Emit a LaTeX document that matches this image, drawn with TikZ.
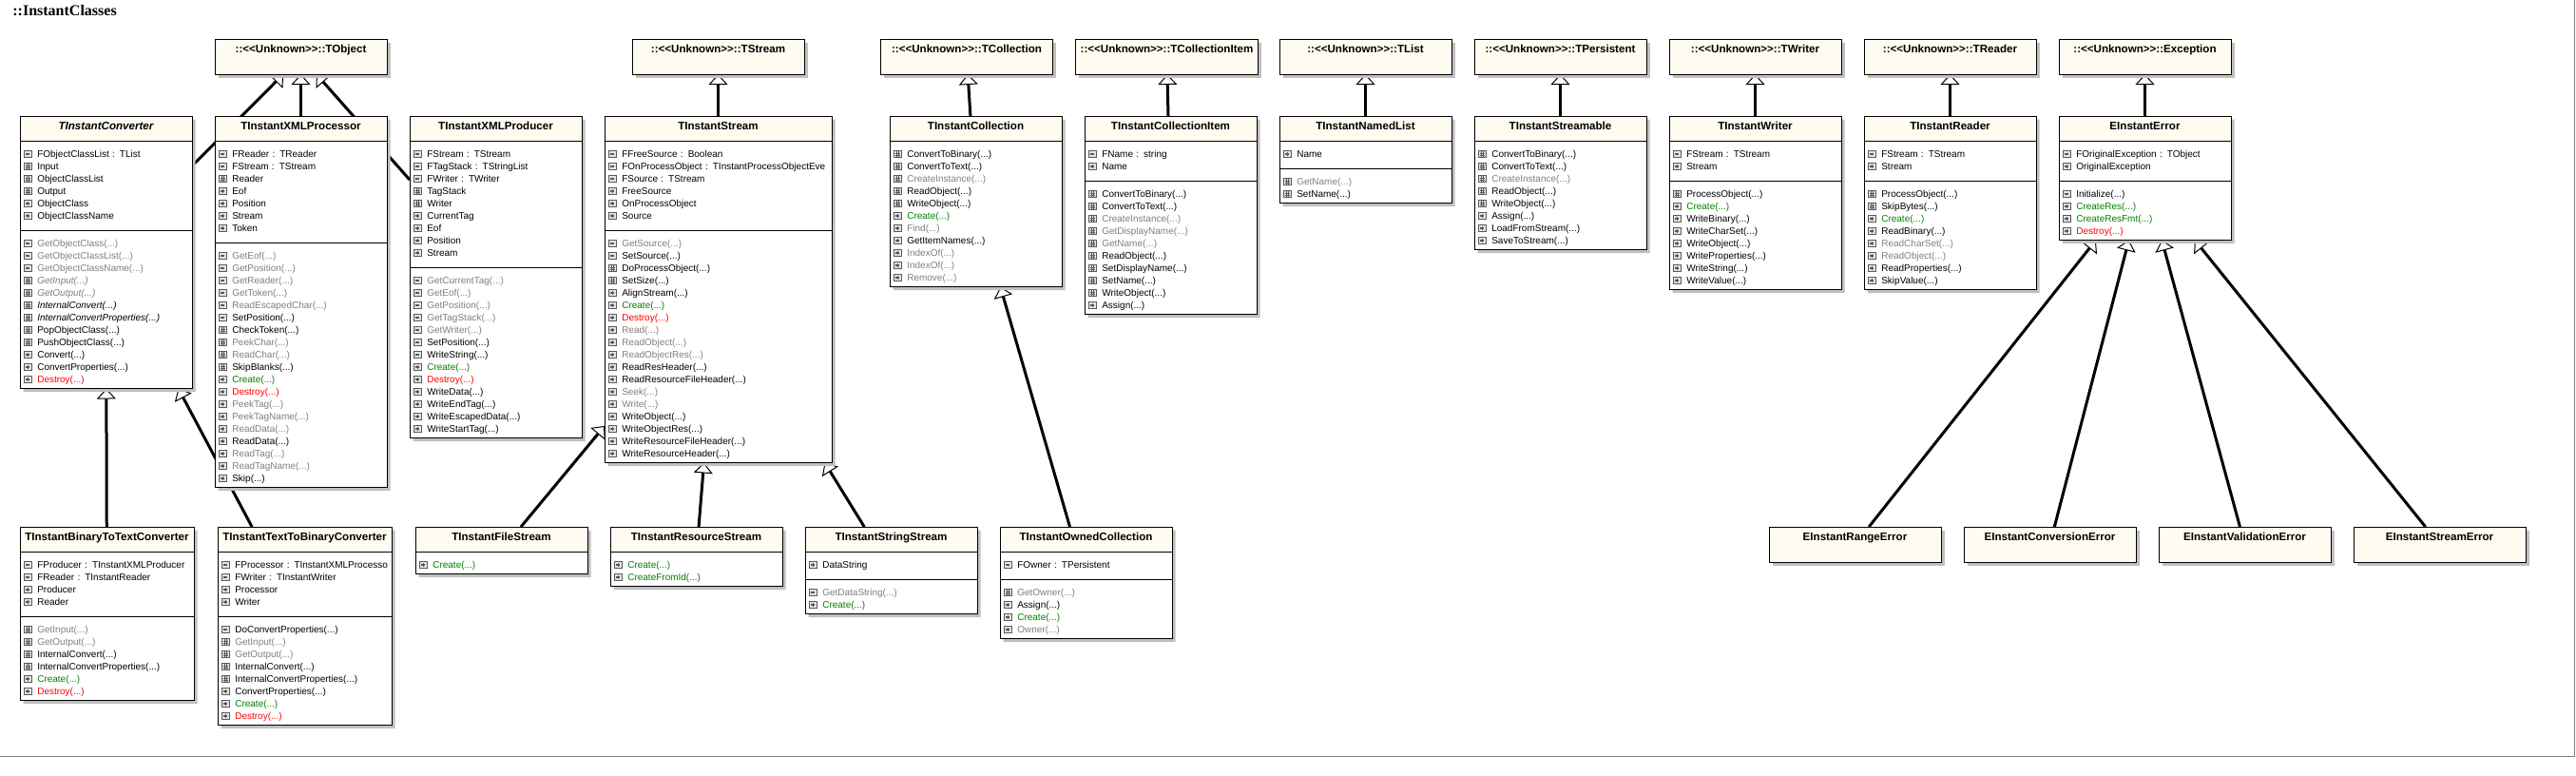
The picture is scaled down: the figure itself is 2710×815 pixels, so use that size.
\documentclass[tikz,border=0pt]{standalone}
\usepackage{fontspec}
\setmainfont{Liberation Sans}
\newfontfamily\titlefont{Liberation Serif}
\usepackage{tikz}
\usetikzlibrary{arrows.meta,positioning,shapes.multipart,shadows,backgrounds}
\definecolor{classhead}{RGB}{255,251,240}
\definecolor{shadowgray}{RGB}{192,192,192}
\definecolor{memgray}{RGB}{128,128,128}
\definecolor{memgreen}{RGB}{0,128,0}
\definecolor{memred}{RGB}{255,0,0}
\definecolor{icondark}{RGB}{90,90,90}
\definecolor{iconfill}{RGB}{228,228,228}
\newcommand{\memfont}{\fontsize{5pt}{6.5pt}\selectfont}
\newcommand{\headfont}{\bfseries\fontsize{5.8pt}{7pt}\selectfont}
\newcommand{\vicon}[1]{\tikz[baseline=0pt]{\draw[line width=0.35pt,draw=icondark,fill=iconfill] (0pt,0pt) rectangle (3.8pt,3.8pt); #1}}
\newcommand{\ipub}{\vicon{\draw[line width=0.6pt,icondark] (0.8pt,1.9pt) -- (3pt,1.9pt) (1.9pt,0.8pt) -- (1.9pt,3pt);}}
\newcommand{\ipriv}{\vicon{\draw[line width=0.6pt,icondark] (0.8pt,1.9pt) -- (3pt,1.9pt);}}
\newcommand{\iprot}{\vicon{\draw[line width=0.3pt,icondark] (1.4pt,0.6pt) -- (1.4pt,3.2pt) (2.4pt,0.6pt) -- (2.4pt,3.2pt) (0.6pt,1.4pt) -- (3.2pt,1.4pt) (0.6pt,2.4pt) -- (3.2pt,2.4pt);}}
\newcommand{\mem}[3]{\leavevmode\hbox to\linewidth{\rule[-1.6pt]{0pt}{6.5pt}#1\hspace{3pt}\textcolor{#2}{#3}\hss}}
\newcommand{\cname}[1]{\leavevmode\hbox to\linewidth{\hss\rule[-4.5pt]{0pt}{10.5pt}\headfont #1\hss}}
\newcommand{\padtop}{\rule{0pt}{7.65pt}}
\newcommand{\padbot}{\rule[-4.35pt]{0pt}{4.35pt}}
\newcommand{\unk}{::<\kern0pt<Unknown>\kern0pt>::}
\tikzset{
  umlclass/.style={rectangle split, rectangle split parts=3, draw, fill=white, line width=0.5pt,
    text width=86.5pt, inner xsep=2pt, inner ysep=1pt, outer sep=0pt, align=left, font=\memfont,
    path picture={\fill[classhead] (path picture bounding box.north west) rectangle ([yshift=-12.5pt]path picture bounding box.north east);},
    drop shadow={shadow xshift=1.75pt, shadow yshift=-1.75pt, fill=shadowgray, opacity=1}},
  stubclass/.style={rectangle, draw, fill=classhead, line width=0.5pt, minimum width=90.5pt,
    inner xsep=0pt, inner ysep=2pt, text height=5pt, text depth=9.5pt, outer sep=0pt, font=\headfont,
    drop shadow={shadow xshift=1.75pt, shadow yshift=-1.75pt, fill=shadowgray, opacity=1}},
  inherit/.style={line width=1.5pt, -{Triangle[fill=white, length=5.5pt, width=10pt, line width=0.5pt]}}
}
\begin{document}
\begin{tikzpicture}[x=0.5pt,y=-0.5pt]
  \useasboundingbox (0,0) rectangle (2710,815);
  \node[anchor=base west, inner sep=0pt, font=\titlefont\bfseries\fontsize{8pt}{9.6pt}\selectfont] (title) at (13,16) {::InstantClasses};

  \node[umlclass, anchor=north west] (conv) at (21,122) {\cname{\itshape TInstantConverter}
    \nodepart{two}\padtop\mem{\ipriv}{black}{FObjectClassList : TList}\\
    \mem{\iprot}{black}{Input}\\
    \mem{\iprot}{black}{ObjectClassList}\\
    \mem{\iprot}{black}{Output}\\
    \mem{\ipub}{black}{ObjectClass}\\
    \mem{\ipub}{black}{ObjectClassName}\padbot
    \nodepart{three}\padtop\mem{\ipriv}{memgray}{GetObjectClass(...)}\\
    \mem{\ipriv}{memgray}{GetObjectClassList(...)}\\
    \mem{\ipriv}{memgray}{GetObjectClassName(...)}\\
    \mem{\iprot}{memgray}{\itshape GetInput(...)}\\
    \mem{\iprot}{memgray}{\itshape GetOutput(...)}\\
    \mem{\iprot}{black}{\itshape InternalConvert(...)}\\
    \mem{\iprot}{black}{\itshape InternalConvertProperties(...)}\\
    \mem{\iprot}{black}{PopObjectClass(...)}\\
    \mem{\iprot}{black}{PushObjectClass(...)}\\
    \mem{\ipub}{black}{Convert(...)}\\
    \mem{\ipub}{black}{ConvertProperties(...)}\\
    \mem{\ipub}{memred}{Destroy(...)}};
  \node[umlclass, below right=0pt and 12pt of conv.north east] (xmlproc) {\cname{TInstantXMLProcessor}
    \nodepart{two}\padtop\mem{\ipriv}{black}{FReader : TReader}\\
    \mem{\ipriv}{black}{FStream : TStream}\\
    \mem{\iprot}{black}{Reader}\\
    \mem{\ipub}{black}{Eof}\\
    \mem{\ipub}{black}{Position}\\
    \mem{\ipub}{black}{Stream}\\
    \mem{\ipub}{black}{Token}\padbot
    \nodepart{three}\padtop\mem{\ipriv}{memgray}{GetEof(...)}\\
    \mem{\ipriv}{memgray}{GetPosition(...)}\\
    \mem{\ipriv}{memgray}{GetReader(...)}\\
    \mem{\ipriv}{memgray}{GetToken(...)}\\
    \mem{\ipriv}{memgray}{ReadEscapedChar(...)}\\
    \mem{\ipriv}{black}{SetPosition(...)}\\
    \mem{\iprot}{black}{CheckToken(...)}\\
    \mem{\iprot}{memgray}{PeekChar(...)}\\
    \mem{\iprot}{memgray}{ReadChar(...)}\\
    \mem{\iprot}{black}{SkipBlanks(...)}\\
    \mem{\ipub}{memgreen}{Create(...)}\\
    \mem{\ipub}{memred}{Destroy(...)}\\
    \mem{\ipub}{memgray}{PeekTag(...)}\\
    \mem{\ipub}{memgray}{PeekTagName(...)}\\
    \mem{\ipub}{memgray}{ReadData(...)}\\
    \mem{\ipub}{black}{ReadData(...)}\\
    \mem{\ipub}{memgray}{ReadTag(...)}\\
    \mem{\ipub}{memgray}{ReadTagName(...)}\\
    \mem{\ipub}{black}{Skip(...)}};
  \node[umlclass, below right=0pt and 12pt of xmlproc.north east] (xmlprod) {\cname{TInstantXMLProducer}
    \nodepart{two}\padtop\mem{\ipriv}{black}{FStream : TStream}\\
    \mem{\ipriv}{black}{FTagStack : TStringList}\\
    \mem{\ipriv}{black}{FWriter : TWriter}\\
    \mem{\iprot}{black}{TagStack}\\
    \mem{\iprot}{black}{Writer}\\
    \mem{\ipub}{black}{CurrentTag}\\
    \mem{\ipub}{black}{Eof}\\
    \mem{\ipub}{black}{Position}\\
    \mem{\ipub}{black}{Stream}\padbot
    \nodepart{three}\padtop\mem{\ipriv}{memgray}{GetCurrentTag(...)}\\
    \mem{\ipriv}{memgray}{GetEof(...)}\\
    \mem{\ipriv}{memgray}{GetPosition(...)}\\
    \mem{\ipriv}{memgray}{GetTagStack(...)}\\
    \mem{\ipriv}{memgray}{GetWriter(...)}\\
    \mem{\ipriv}{black}{SetPosition(...)}\\
    \mem{\ipriv}{black}{WriteString(...)}\\
    \mem{\ipub}{memgreen}{Create(...)}\\
    \mem{\ipub}{memred}{Destroy(...)}\\
    \mem{\ipub}{black}{WriteData(...)}\\
    \mem{\ipub}{black}{WriteEndTag(...)}\\
    \mem{\ipub}{black}{WriteEscapedData(...)}\\
    \mem{\ipub}{black}{WriteStartTag(...)}};
  \node[umlclass, text width=115.5pt, below right=0pt and 12pt of xmlprod.north east] (stream) {\cname{TInstantStream}
    \nodepart{two}\padtop\mem{\ipriv}{black}{FFreeSource : Boolean}\\
    \mem{\ipriv}{black}{FOnProcessObject : TInstantProcessObjectEve}\\
    \mem{\ipriv}{black}{FSource : TStream}\\
    \mem{\ipub}{black}{FreeSource}\\
    \mem{\ipub}{black}{OnProcessObject}\\
    \mem{\ipub}{black}{Source}\padbot
    \nodepart{three}\padtop\mem{\ipriv}{memgray}{GetSource(...)}\\
    \mem{\ipriv}{black}{SetSource(...)}\\
    \mem{\iprot}{black}{DoProcessObject(...)}\\
    \mem{\iprot}{black}{SetSize(...)}\\
    \mem{\ipub}{black}{AlignStream(...)}\\
    \mem{\ipub}{memgreen}{Create(...)}\\
    \mem{\ipub}{memred}{Destroy(...)}\\
    \mem{\ipub}{memgray}{Read(...)}\\
    \mem{\ipub}{memgray}{ReadObject(...)}\\
    \mem{\ipub}{memgray}{ReadObjectRes(...)}\\
    \mem{\ipub}{black}{ReadResHeader(...)}\\
    \mem{\ipub}{black}{ReadResourceFileHeader(...)}\\
    \mem{\ipub}{memgray}{Seek(...)}\\
    \mem{\ipub}{memgray}{Write(...)}\\
    \mem{\ipub}{black}{WriteObject(...)}\\
    \mem{\ipub}{black}{WriteObjectRes(...)}\\
    \mem{\ipub}{black}{WriteResourceFileHeader(...)}\\
    \mem{\ipub}{black}{WriteResourceHeader(...)}};
  \node[umlclass, rectangle split parts=2, below right=0pt and 30.5pt of stream.north east] (coll) {\cname{TInstantCollection}
    \nodepart{two}\padtop\mem{\iprot}{black}{ConvertToBinary(...)}\\
    \mem{\iprot}{black}{ConvertToText(...)}\\
    \mem{\iprot}{memgray}{CreateInstance(...)}\\
    \mem{\iprot}{black}{ReadObject(...)}\\
    \mem{\iprot}{black}{WriteObject(...)}\\
    \mem{\ipub}{memgreen}{Create(...)}\\
    \mem{\ipub}{memgray}{Find(...)}\\
    \mem{\ipub}{black}{GetItemNames(...)}\\
    \mem{\ipub}{memgray}{IndexOf(...)}\\
    \mem{\ipub}{memgray}{IndexOf(...)}\\
    \mem{\ipub}{memgray}{Remove(...)}};
  \node[umlclass, below right=0pt and 12pt of coll.north east] (collitem) {\cname{TInstantCollectionItem}
    \nodepart{two}\padtop\mem{\ipriv}{black}{FName : string}\\
    \mem{\ipub}{black}{Name}\padbot
    \nodepart{three}\padtop\mem{\iprot}{black}{ConvertToBinary(...)}\\
    \mem{\iprot}{black}{ConvertToText(...)}\\
    \mem{\iprot}{memgray}{CreateInstance(...)}\\
    \mem{\iprot}{memgray}{GetDisplayName(...)}\\
    \mem{\iprot}{memgray}{GetName(...)}\\
    \mem{\iprot}{black}{ReadObject(...)}\\
    \mem{\iprot}{black}{SetDisplayName(...)}\\
    \mem{\iprot}{black}{SetName(...)}\\
    \mem{\iprot}{black}{WriteObject(...)}\\
    \mem{\ipub}{black}{Assign(...)}};
  \node[umlclass, below right=0pt and 12pt of collitem.north east] (namedlist) {\cname{TInstantNamedList}
    \nodepart{two}\padtop\mem{\ipub}{black}{Name}\padbot
    \nodepart{three}\padtop\mem{\iprot}{memgray}{GetName(...)}\\
    \mem{\iprot}{black}{SetName(...)}};
  \node[umlclass, rectangle split parts=2, below right=0pt and 12pt of namedlist.north east] (streamable) {\cname{TInstantStreamable}
    \nodepart{two}\padtop\mem{\iprot}{black}{ConvertToBinary(...)}\\
    \mem{\iprot}{black}{ConvertToText(...)}\\
    \mem{\iprot}{memgray}{CreateInstance(...)}\\
    \mem{\iprot}{black}{ReadObject(...)}\\
    \mem{\iprot}{black}{WriteObject(...)}\\
    \mem{\ipub}{black}{Assign(...)}\\
    \mem{\ipub}{black}{LoadFromStream(...)}\\
    \mem{\ipub}{black}{SaveToStream(...)}};
  \node[umlclass, below right=0pt and 12pt of streamable.north east] (writer) {\cname{TInstantWriter}
    \nodepart{two}\padtop\mem{\ipriv}{black}{FStream : TStream}\\
    \mem{\ipub}{black}{Stream}\padbot
    \nodepart{three}\padtop\mem{\iprot}{black}{ProcessObject(...)}\\
    \mem{\ipub}{memgreen}{Create(...)}\\
    \mem{\ipub}{black}{WriteBinary(...)}\\
    \mem{\ipub}{black}{WriteCharSet(...)}\\
    \mem{\ipub}{black}{WriteObject(...)}\\
    \mem{\ipub}{black}{WriteProperties(...)}\\
    \mem{\ipub}{black}{WriteString(...)}\\
    \mem{\ipub}{black}{WriteValue(...)}};
  \node[umlclass, below right=0pt and 12pt of writer.north east] (reader) {\cname{TInstantReader}
    \nodepart{two}\padtop\mem{\ipriv}{black}{FStream : TStream}\\
    \mem{\ipub}{black}{Stream}\padbot
    \nodepart{three}\padtop\mem{\iprot}{black}{ProcessObject(...)}\\
    \mem{\iprot}{black}{SkipBytes(...)}\\
    \mem{\ipub}{memgreen}{Create(...)}\\
    \mem{\ipub}{black}{ReadBinary(...)}\\
    \mem{\ipub}{memgray}{ReadCharSet(...)}\\
    \mem{\ipub}{memgray}{ReadObject(...)}\\
    \mem{\ipub}{black}{ReadProperties(...)}\\
    \mem{\ipub}{black}{SkipValue(...)}};
  \node[umlclass, below right=0pt and 12pt of reader.north east] (error) {\cname{EInstantError}
    \nodepart{two}\padtop\mem{\ipriv}{black}{FOriginalException : TObject}\\
    \mem{\ipub}{black}{OriginalException}\padbot
    \nodepart{three}\padtop\mem{\ipriv}{black}{Initialize(...)}\\
    \mem{\ipub}{memgreen}{CreateRes(...)}\\
    \mem{\ipub}{memgreen}{CreateResFmt(...)}\\
    \mem{\ipub}{memred}{Destroy(...)}};

  \node[stubclass, above=22pt of xmlproc] (tobject) {\unk TObject};
  \node[stubclass, above=22pt of stream] (tstream) {\unk TStream};
  \node[stubclass, above=22pt of coll, xshift=-4.75pt] (tcoll) {\unk TCollection};
  \node[stubclass, minimum width=95.75pt, above=22pt of collitem, xshift=-2pt] (tcollitem) {\unk TCollectionItem};
  \node[stubclass, above=22pt of namedlist] (tlist) {\unk TList};
  \node[stubclass, above=22pt of streamable] (tpersistent) {\unk TPersistent};
  \node[stubclass, above=22pt of writer] (twriter) {\unk TWriter};
  \node[stubclass, above=22pt of reader] (treader) {\unk TReader};
  \node[stubclass, above=22pt of error] (exception) {\unk Exception};

  \node[umlclass, text width=87.5pt, anchor=north west] (bin2text) at (21,554) {\cname{TInstantBinaryToTextConverter}
    \nodepart{two}\padtop\mem{\ipriv}{black}{FProducer : TInstantXMLProducer}\\
    \mem{\ipriv}{black}{FReader : TInstantReader}\\
    \mem{\ipub}{black}{Producer}\\
    \mem{\ipub}{black}{Reader}\padbot
    \nodepart{three}\padtop\mem{\iprot}{memgray}{GetInput(...)}\\
    \mem{\iprot}{memgray}{GetOutput(...)}\\
    \mem{\iprot}{black}{InternalConvert(...)}\\
    \mem{\iprot}{black}{InternalConvertProperties(...)}\\
    \mem{\ipub}{memgreen}{Create(...)}\\
    \mem{\ipub}{memred}{Destroy(...)}};
  \node[umlclass, text width=87.5pt, below right=0pt and 12.5pt of bin2text.north east] (text2bin) {\cname{TInstantTextToBinaryConverter}
    \nodepart{two}\padtop\mem{\ipriv}{black}{FProcessor : TInstantXMLProcesso}\\
    \mem{\ipriv}{black}{FWriter : TInstantWriter}\\
    \mem{\ipub}{black}{Processor}\\
    \mem{\ipub}{black}{Writer}\padbot
    \nodepart{three}\padtop\mem{\ipriv}{black}{DoConvertProperties(...)}\\
    \mem{\iprot}{memgray}{GetInput(...)}\\
    \mem{\iprot}{memgray}{GetOutput(...)}\\
    \mem{\iprot}{black}{InternalConvert(...)}\\
    \mem{\iprot}{black}{InternalConvertProperties(...)}\\
    \mem{\ipub}{black}{ConvertProperties(...)}\\
    \mem{\ipub}{memgreen}{Create(...)}\\
    \mem{\ipub}{memred}{Destroy(...)}};
  \node[umlclass, rectangle split parts=2, below right=0pt and 12.5pt of text2bin.north east] (filestream) {\cname{TInstantFileStream}
    \nodepart{two}\padtop\mem{\ipub}{memgreen}{Create(...)}};
  \node[umlclass, rectangle split parts=2, below right=0pt and 12pt of filestream.north east] (resstream) {\cname{TInstantResourceStream}
    \nodepart{two}\padtop\mem{\ipub}{memgreen}{Create(...)}\\
    \mem{\ipub}{memgreen}{CreateFromId(...)}};
  \node[umlclass, below right=0pt and 12pt of resstream.north east] (strstream) {\cname{TInstantStringStream}
    \nodepart{two}\padtop\mem{\ipub}{black}{DataString}\padbot
    \nodepart{three}\padtop\mem{\ipriv}{memgray}{GetDataString(...)}\\
    \mem{\ipub}{memgreen}{Create(...)}};
  \node[umlclass, below right=0pt and 12pt of strstream.north east] (owned) {\cname{TInstantOwnedCollection}
    \nodepart{two}\padtop\mem{\ipriv}{black}{FOwner : TPersistent}\padbot
    \nodepart{three}\padtop\mem{\iprot}{memgray}{GetOwner(...)}\\
    \mem{\ipub}{black}{Assign(...)}\\
    \mem{\ipub}{memgreen}{Create(...)}\\
    \mem{\ipub}{memgray}{Owner(...)}};

  \node[stubclass, anchor=north west] (rangeerr) at (1861,554) {EInstantRangeError};
  \node[stubclass, below right=0pt and 12pt of rangeerr.north east] (converr) {EInstantConversionError};
  \node[stubclass, below right=0pt and 12pt of converr.north east] (validerr) {EInstantValidationError};
  \node[stubclass, below right=0pt and 12pt of validerr.north east] (streamerr) {EInstantStreamError};

  \begin{pgfonlayer}{background}
    \draw[inherit] (conv) -- (tobject);
    \draw[inherit] (xmlproc) -- (tobject);
    \draw[inherit] (xmlprod) -- (tobject);
    \draw[inherit] (stream) -- (tstream);
    \draw[inherit] (coll) -- (tcoll);
    \draw[inherit] (collitem) -- (tcollitem);
    \draw[inherit] (namedlist) -- (tlist);
    \draw[inherit] (streamable) -- (tpersistent);
    \draw[inherit] (writer) -- (twriter);
    \draw[inherit] (reader) -- (treader);
    \draw[inherit] (error) -- (exception);
    \draw[inherit] (bin2text) -- (conv);
    \draw[inherit] (text2bin) -- (conv);
    \draw[inherit] (filestream) -- (stream);
    \draw[inherit] (resstream) -- (stream);
    \draw[inherit] (strstream) -- (stream);
    \draw[inherit] (owned) -- (coll);
    \draw[inherit] (rangeerr) -- (error);
    \draw[inherit] (converr) -- (error);
    \draw[inherit] (validerr) -- (error);
    \draw[inherit] (streamerr) -- (error);
  \end{pgfonlayer}
  \draw[line width=0.5pt, gray] (0,795) -- (2708,795) -- (2708,0);
\end{tikzpicture}
\end{document}
